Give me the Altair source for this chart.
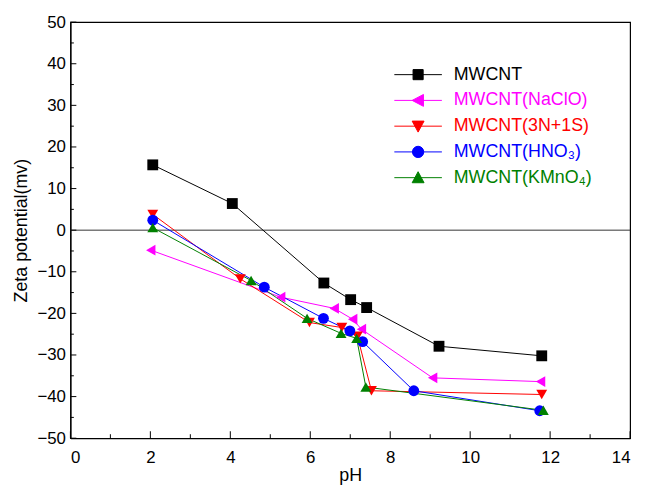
import altair as alt
import pandas as pd

series = ["MWCNT", "MWCNT(NaClO)", "MWCNT(3N+1S)", "MWCNT(HNO₃)", "MWCNT(KMnO₄)"]
colors = ["#000000", "#ff00ff", "#ff0000", "#0000ff", "#008000"]
shapes = ["square", "triangle-left", "triangle-down", "circle", "triangle-up"]
legend_paths = [
    "M-4,0H4M-0.85,-0.85H0.85V0.85H-0.85Z",
    "M-4,0H4M-1,0L0.9,-1L0.9,1Z",
    "M-4,0H4M-1,-0.85H1L0,1Z",
    "M-4,0H4M-0.95,0A0.95,0.95,0,1,0,0.95,0A0.95,0.95,0,1,0,-0.95,0Z",
    "M-4,0H4M-1,0.85H1L0,-1Z",
]

ph_mwcnt = [2.06, 4.05, 6.34, 7.01, 7.41, 9.22, 11.79]
zeta_mwcnt = [15.7, 6.4, -12.7, -16.7, -18.6, -27.9, -30.2]
ph_naclo = [2.01, 5.26, 6.60, 7.06, 7.28, 9.06, 11.76]
zeta_naclo = [-4.8, -16.1, -18.8, -21.4, -23.8, -35.5, -36.4]
ph_3n1s = [2.06, 4.25, 5.98, 6.79, 7.18, 7.53, 11.79]
zeta_3n1s = [3.8, -11.7, -22.2, -23.4, -25.5, -38.6, -39.5]
ph_hno3 = [2.06, 4.85, 6.33, 6.99, 7.31, 8.59, 11.74]
zeta_hno3 = [2.4, -13.7, -21.2, -24.2, -26.8, -38.6, -43.4]
ph_kmno4 = [2.06, 4.52, 5.92, 6.77, 7.16, 7.39, 11.83]
zeta_kmno4 = [0.6, -12.1, -21.2, -24.8, -26.0, -37.7, -43.3]

x_major = [0, 2, 4, 6, 8, 10, 12, 14]
x_minor = [1, 3, 5, 7, 9, 11, 13]
y_major = [-50, -40, -30, -20, -10, 0, 10, 20, 30, 40, 50]
y_minor = [-45, -35, -25, -15, -5, 5, 15, 25, 35, 45]
zero_line = [0]

all_ph = [ph_mwcnt, ph_naclo, ph_3n1s, ph_hno3, ph_kmno4]
all_zeta = [zeta_mwcnt, zeta_naclo, zeta_3n1s, zeta_hno3, zeta_kmno4]
rows = []
for s, phs, zs in zip(series, all_ph, all_zeta):
    for i, (p, z) in enumerate(zip(phs, zs)):
        rows.append({"series": s, "ph": p, "zeta": z, "idx": i})
df = pd.DataFrame(rows)

W, H = 565, 420
FONT = "Liberation Sans"
x_scale = alt.Scale(domain=[0, 14], nice=False, zero=False)
y_scale = alt.Scale(domain=[-50, 50], nice=False, zero=False)
x_axis = alt.Axis(values=x_major, ticks=False, labelFontSize=17, labelPadding=12,
                  titleFontSize=18, titlePadding=1, labelFont=FONT, titleFont=FONT,
                  titleFontWeight="normal", grid=False, domainColor="black",
                  domainWidth=1.2, labelColor="black", titleColor="black")
y_axis = alt.Axis(values=y_major, ticks=False, labelFontSize=17, labelPadding=5,
                  titleFontSize=18, titlePadding=6, labelFont=FONT, titleFont=FONT,
                  titleFontWeight="normal", grid=False, domainColor="black",
                  domainWidth=1.2, labelColor="black", titleColor="black")


def xenc(field):
    return alt.X(field, type="quantitative", scale=x_scale, axis=x_axis, title="pH")


def yenc(field):
    return alt.Y(field, type="quantitative", scale=y_scale, axis=y_axis,
                 title="Zeta potential(mv)")


color_scale = alt.Scale(domain=series, range=colors)

lines = alt.Chart(df).mark_line(strokeWidth=1).encode(
    x=xenc("ph"), y=yenc("zeta"),
    color=alt.Color("series:N", scale=color_scale, legend=None),
    order=alt.Order("idx:Q"),
)

points = alt.Chart(df).mark_point(filled=True, size=120, opacity=1).encode(
    x=xenc("ph"), y=yenc("zeta"),
    color=alt.Color("series:N", scale=color_scale, legend=None),
    shape=alt.Shape("series:N", scale=alt.Scale(domain=series, range=shapes), legend=None),
)

label_expr = " : ".join(f"datum.value === '{s}' ? '{c}'" for s, c in zip(series, colors)) + " : 'black'"
legend_def = alt.Legend(
    title=None, orient="none", legendX=342, legendY=44, padding=0,
    labelFontSize=18, labelFont=FONT, labelColor={"expr": label_expr},
    symbolSize=144, symbolStrokeWidth=1, symbolOpacity=1,
    labelOffset=27, rowPadding=8, labelLimit=300,
)
legend_layer = alt.Chart(df).mark_point(size=144, opacity=0, strokeWidth=1).encode(
    x=xenc("ph"), y=yenc("zeta"),
    fill=alt.Fill("series:N", scale=alt.Scale(domain=series, range=colors), legend=legend_def),
    stroke=alt.Stroke("series:N", scale=alt.Scale(domain=series, range=colors), legend=legend_def),
    shape=alt.Shape("series:N", scale=alt.Scale(domain=series, range=legend_paths), legend=legend_def),
)

zero = alt.Chart(pd.DataFrame({"v": zero_line})).mark_rule(color="#333333", strokeWidth=1).encode(
    y=yenc("v"))

xt_major = alt.Chart(pd.DataFrame({"v": x_major})).mark_rule(color="black", strokeWidth=1).encode(
    x=xenc("v"), y=alt.value(H), y2=alt.value(H - 7))
xt_minor = alt.Chart(pd.DataFrame({"v": x_minor})).mark_rule(color="black", strokeWidth=1).encode(
    x=xenc("v"), y=alt.value(H), y2=alt.value(H - 4))
yt_major = alt.Chart(pd.DataFrame({"v": y_major})).mark_rule(color="black", strokeWidth=1).encode(
    y=yenc("v"), x=alt.value(0), x2=alt.value(6))
yt_minor = alt.Chart(pd.DataFrame({"v": y_minor})).mark_rule(color="black", strokeWidth=1).encode(
    y=yenc("v"), x=alt.value(0), x2=alt.value(3.5))

chart = alt.layer(
    zero, xt_major, xt_minor, yt_major, yt_minor, lines, points, legend_layer
).resolve_scale(shape="independent", fill="independent", stroke="independent").resolve_legend(
    shape="independent", fill="independent", stroke="independent"
).properties(
    width=W, height=H,
    padding={"left": 63, "top": 12, "right": 10, "bottom": 48},
    autosize=alt.AutoSizeParams(type="none"),
    background="white",
).configure_view(stroke="black", strokeWidth=1.2)

chart.save("out.html", embed_options={"renderer": "svg", "actions": False})
